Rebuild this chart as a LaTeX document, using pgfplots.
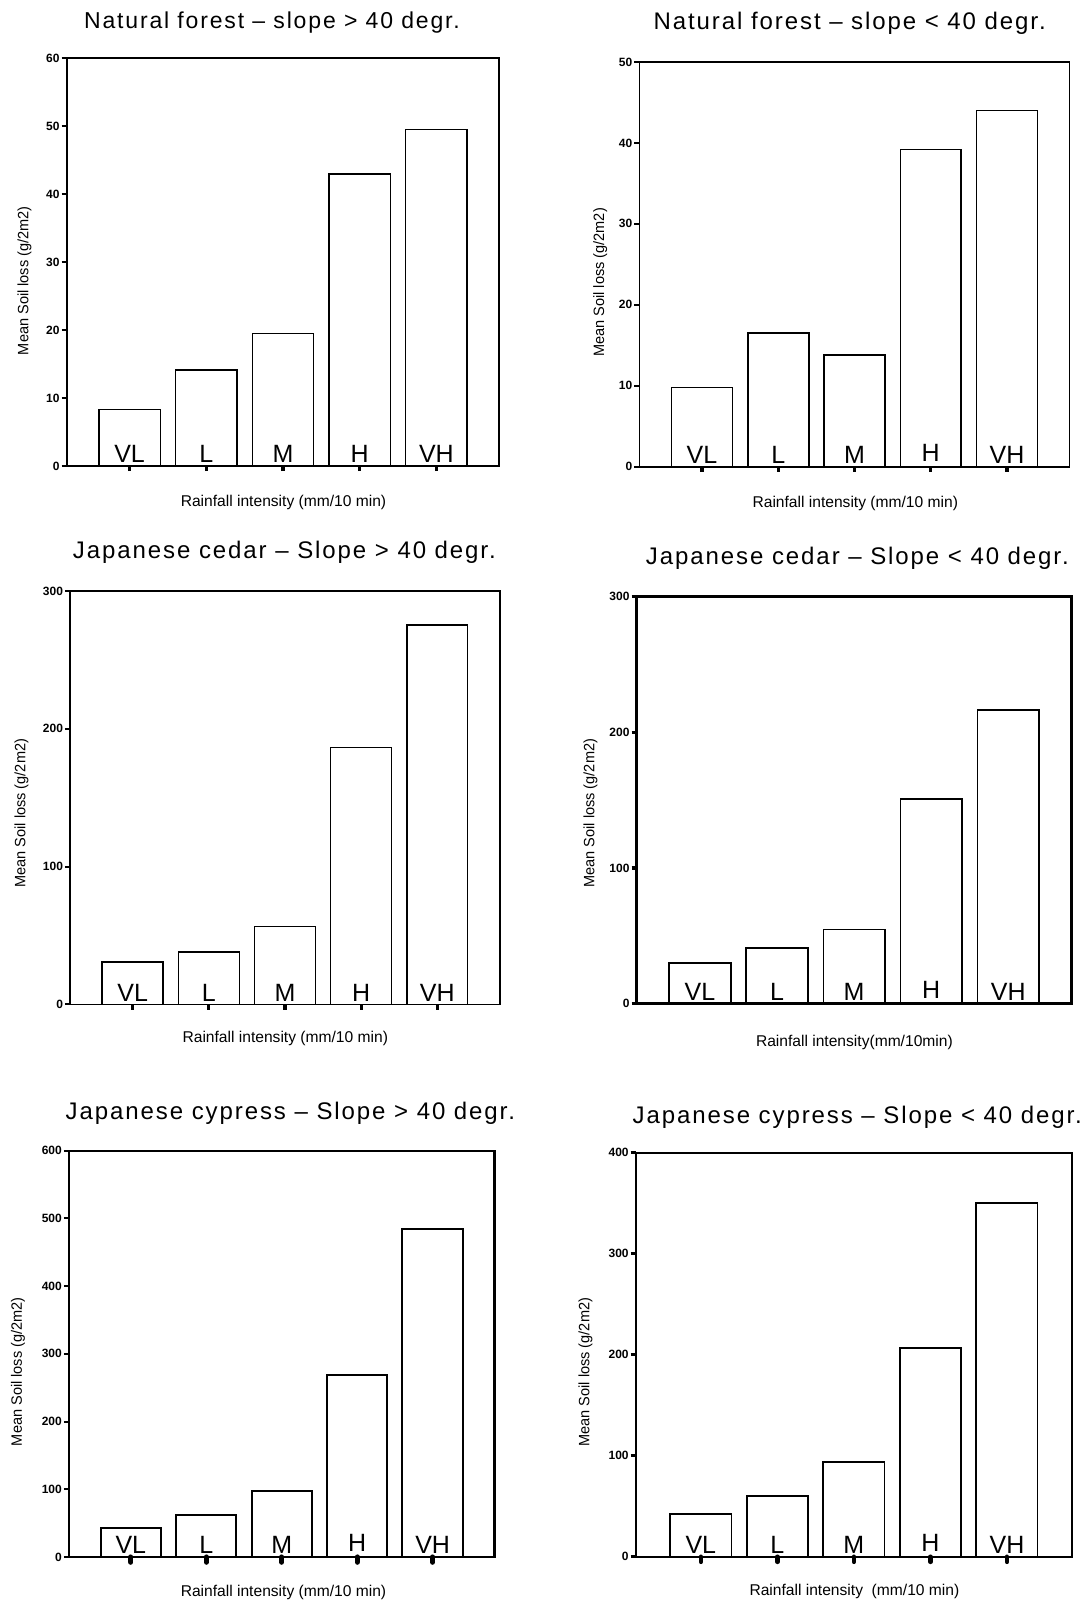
\documentclass[border=0pt]{standalone}
\usepackage{fontspec}
\setmainfont{Liberation Sans}
\newfontfamily\condfont{Liberation Sans}[FakeStretch=0.97]
\usepackage{pgfplots}
\pgfplotsset{compat=1.18}

\pgfplotsset{
 panel/.style={
   scale only axis, anchor=south west, axis on top,
   xmin=-0.82, xmax=4.82, ymin=0,
   xtick={0,1,2,3,4}, xticklabels={{},{},{},{},{}},
   tick align=outside, tick pos=left,
   major tick length=2.6pt,
   /pgf/number format/assume math mode=true,
   yticklabel style={font=\fontsize{6}{7}\selectfont\bfseries, inner sep=0.8pt},
   axis line style={line width=0.9pt},
   xtick style={black, line width=1.6pt},
   ytick style={black, line width=1pt},
   clip=false,
 },
 bars/.style={ybar, fill=white, draw=black, line width=0.75pt, bar width=0.8},
}
\tikzset{
 barlbl/.style={anchor=base, inner sep=0pt, yshift=1.7pt, font=\fontsize{12.5}{14}\selectfont},
 ttl/.style={anchor=base, inner sep=0pt, font=\fontsize{12}{14}\selectfont\addfontfeature{LetterSpace=8}},
 ttlsmall/.style={anchor=base, inner sep=0pt, font=\fontsize{11.5}{13}\selectfont\addfontfeature{LetterSpace=8}},
 xlab/.style={anchor=base, inner sep=0pt, font=\fontsize{7.8}{9}\selectfont},
 ylab/.style={anchor=center, inner sep=0pt, rotate=90, font=\condfont\fontsize{7.5}{9}\selectfont},
}
\newcommand\barletters[1]{%
 \node[barlbl] at (axis cs:0,0) {VL};
 \node[barlbl] at (axis cs:1,0) {L};
 \node[barlbl] at (axis cs:2,0) {M};
 \node[barlbl,yshift=#1] at (axis cs:3,0) {H};
 \node[barlbl] at (axis cs:4,0) {VH};
}

\begin{document}
\begin{tikzpicture}
\useasboundingbox (0,0) rectangle (544pt,801.5pt);

% ---------- Panel 1 ----------
\begin{axis}[panel, at={(33.35pt,568.5pt)}, width=216.3pt, height=203.85pt,
  ymax=60, ytick={0,10,...,60}]
\addplot[bars] coordinates {(0,8.3) (1,14.1) (2,19.5) (3,43.0) (4,49.5)};
\barletters{0pt}
\end{axis}
\node[ttlsmall] at (136pt,787.35pt) {Natural forest -- slope > 40 degr.};
\node[xlab] at (141.75pt,548.4pt) {Rainfall intensity (mm/10 min)};
\node[ylab] at (12.3pt,661.15pt) {Mean Soil loss (g/2m2)};

% ---------- Panel 2 ----------
\begin{axis}[panel, at={(319.75pt,568.15pt)}, width=215pt, height=202.35pt,
  ymax=50, ytick={0,10,...,50}]
\addplot[bars] coordinates {(0,9.8) (1,16.5) (2,13.8) (3,39.2) (4,44.0)};
\barletters{1pt}
\end{axis}
\node[ttl] at (424.85pt,786.5pt) {Natural forest -- slope < 40 degr.};
\node[xlab] at (427.65pt,547.9pt) {Rainfall intensity (mm/10 min)};
\node[ylab] at (300.15pt,660.25pt) {Mean Soil loss (g/2m2)};

% ---------- Panel 3 ----------
\begin{axis}[panel, at={(35.1pt,299.25pt)}, width=214.75pt, height=206.75pt,
  ymax=300, ytick={0,100,...,300}]
\addplot[bars] coordinates {(0,30.7) (1,38.1) (2,56.7) (3,186.3) (4,275.2)};
\barletters{0pt}
\end{axis}
\node[ttl] at (142.2pt,522.35pt) {Japanese cedar -- Slope > 40 degr.};
\node[xlab] at (142.65pt,280.3pt) {Rainfall intensity (mm/10 min)};
\node[ylab] at (10.8pt,394.85pt) {Mean Soil loss (g/2m2)};

% ---------- Panel 4 ----------
\begin{axis}[panel, at={(318.35pt,299.65pt)}, width=217.4pt, height=203.6pt,
  ymax=300, ytick={0,100,...,300},
  axis line style={line width=1.4pt},
  xtick style={draw=none}, ytick style={black, line width=1.7pt}]
\addplot[bars] coordinates {(0,29.9) (1,41.1) (2,54.8) (3,150.8) (4,216.5)};
\barletters{1pt}
\end{axis}
\node[ttl] at (428.7pt,519pt) {Japanese cedar -- Slope < 40 degr.};
\node[xlab] at (427.2pt,278.45pt) {Rainfall intensity(mm/10min)};
\node[ylab] at (295.3pt,394.85pt) {Mean Soil loss (g/2m2)};

% ---------- Panel 5 ----------
\begin{axis}[panel, at={(34.5pt,23pt)}, width=212.75pt, height=203.15pt,
  ymax=600, ytick={0,100,...,600},
  axis line style={line width=1.2pt},
  xtick style={black, line width=2.6pt, line cap=round}]
\addplot[bars, line width=1pt] coordinates {(0,42.9) (1,61.6) (2,97.5) (3,268.5) (4,483.7)};
\barletters{1pt}
\end{axis}
\node[ttl] at (145.2pt,241.85pt) {Japanese cypress -- Slope > 40 degr.};
\node[xlab] at (141.75pt,3pt) {Rainfall intensity (mm/10 min)};
\node[ylab] at (8.95pt,115.65pt) {Mean Soil loss (g/2m2)};

% ---------- Panel 6 ----------
\begin{axis}[panel, at={(317.9pt,23.15pt)}, width=218.1pt, height=202pt,
  xmin=-0.85, xmax=4.85,
  ymax=400, ytick={0,100,...,400},
  axis line style={line width=1pt},
  xtick style={black, line width=2.2pt, line cap=round}, ytick style={black, line width=1.6pt}]
\addplot[bars, line width=0.9pt] coordinates {(0,42.2) (1,60.0) (2,93.9) (3,206.6) (4,350.2)};
\barletters{1pt}
\end{axis}
\node[ttl] at (428.65pt,239.85pt) {Japanese cypress -- Slope < 40 degr.};
\node[xlab] at (427.2pt,4pt) {Rainfall intensity \ (mm/10 min)};
\node[ylab] at (292.7pt,115.35pt) {Mean Soil loss (g/2m2)};
\end{tikzpicture}
\end{document}
